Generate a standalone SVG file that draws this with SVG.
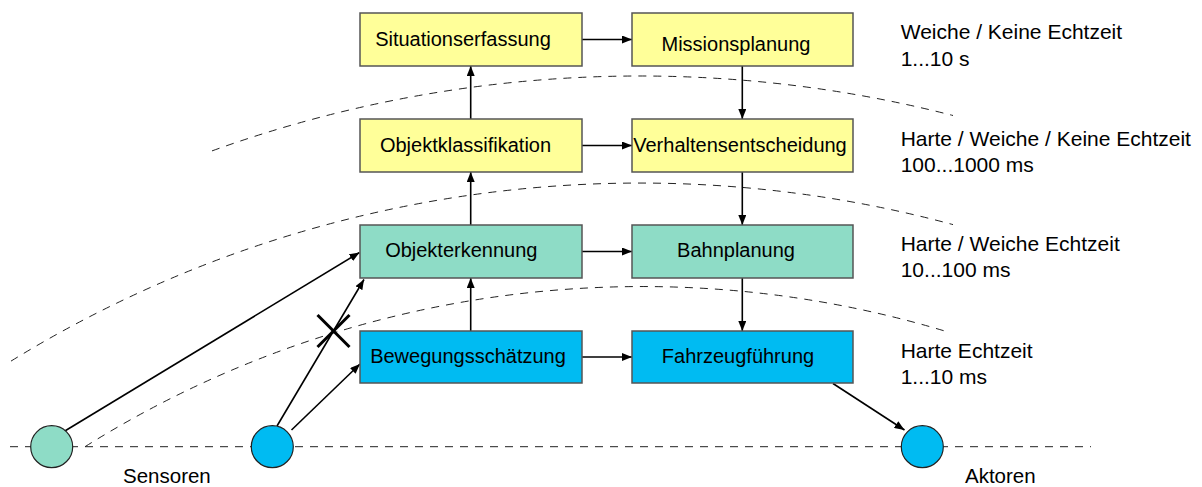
<svg xmlns="http://www.w3.org/2000/svg" width="1202" height="487" viewBox="0 0 1202 487">
  <style>
    .box { stroke: #555; stroke-width: 1.5; }
    .yellow { fill: #FFFF99; }
    .green { fill: #8EDCC6; }
    .blue { fill: #00BBF2; }
    .lbl { font-family: "Liberation Sans", Arial, sans-serif; font-size: 20px; fill: #000; text-anchor: middle; }
    .note { font-family: "Liberation Sans", Arial, sans-serif; font-size: 21px; fill: #000; }
    .side { font-family: "Liberation Sans", Arial, sans-serif; font-size: 20.5px; fill: #000; }
    .dash { fill: none; stroke: #222; stroke-width: 1; stroke-dasharray: 8 7; }
    .edge { fill: none; stroke: #000; stroke-width: 1.6; marker-end: url(#arrow); }
    .dev { stroke: #222; stroke-width: 1.2; }
  </style>
  <defs>
    <marker id="arrow" markerUnits="userSpaceOnUse" markerWidth="10" markerHeight="8" refX="10" refY="4" orient="auto">
      <path d="M0,0 L10,4 L0,8 z" fill="#000"/>
    </marker>
  </defs>
  <rect width="1202" height="487" fill="#fff"/>

  <!-- level boundaries -->
  <g id="boundaries">
    <path class="dash" d="M212,150.9 A1260,1260 0 0 1 953,115.5"/>
    <path class="dash" d="M11,361.1 A1200,1200 0 0 1 953,224.6"/>
    <path class="dash" d="M85,446.7 A1050,1050 0 0 1 948,332"/>
    <line class="dash" x1="10" y1="446.7" x2="1091" y2="446.7"/>
  </g>

  <!-- connectors -->
  <g id="connectors">
    <line class="edge" x1="582" y1="39.5" x2="632" y2="39.5"/>
    <line class="edge" x1="582" y1="145.5" x2="632" y2="145.5"/>
    <line class="edge" x1="582" y1="251.5" x2="632" y2="251.5"/>
    <line class="edge" x1="582" y1="357" x2="632" y2="357"/>
    <line class="edge" x1="470.7" y1="119" x2="470.7" y2="66"/>
    <line class="edge" x1="470.7" y1="225" x2="470.7" y2="172"/>
    <line class="edge" x1="470.7" y1="331" x2="470.7" y2="278"/>
    <line class="edge" x1="742.3" y1="66" x2="742.3" y2="119"/>
    <line class="edge" x1="742.3" y1="172" x2="742.3" y2="225"/>
    <line class="edge" x1="742.3" y1="278" x2="742.3" y2="331"/>
    <line class="edge" x1="64" y1="431.5" x2="359.5" y2="252.5"/>
    <line class="edge" x1="277" y1="426" x2="364" y2="279.5"/>
    <line class="edge" x1="291.5" y1="430" x2="360" y2="364"/>
    <line class="edge" x1="833" y1="383.5" x2="904.5" y2="430"/>
    <!-- blocked path -->
    <g id="cross" stroke="#000" stroke-width="3">
      <line x1="317.5" y1="315" x2="349.5" y2="347"/>
      <line x1="349.5" y1="315" x2="317.5" y2="347"/>
    </g>
  </g>

  <!-- blocks -->
  <g id="situationserfassung">
    <rect class="box yellow" x="360" y="13" width="222" height="53"/>
    <text class="lbl" x="463" y="45.5">Situationserfassung</text>
  </g>
  <g id="missionsplanung">
    <rect class="box yellow" x="632" y="13" width="221" height="53"/>
    <text class="lbl" x="736" y="51">Missionsplanung</text>
  </g>
  <g id="objektklassifikation">
    <rect class="box yellow" x="360" y="119" width="222" height="53"/>
    <text class="lbl" x="465.5" y="151.5">Objektklassifikation</text>
  </g>
  <g id="verhaltensentscheidung">
    <rect class="box yellow" x="632" y="119" width="221" height="53"/>
    <text class="lbl" x="740" y="151.5">Verhaltensentscheidung</text>
  </g>
  <g id="objekterkennung">
    <rect class="box green" x="360" y="225" width="222" height="53"/>
    <text class="lbl" x="461.3" y="257.3">Objekterkennung</text>
  </g>
  <g id="bahnplanung">
    <rect class="box green" x="632" y="225" width="221" height="53"/>
    <text class="lbl" x="736" y="257.3">Bahnplanung</text>
  </g>
  <g id="bewegungsschaetzung">
    <rect class="box blue" x="360" y="331" width="222" height="52"/>
    <text class="lbl" x="468" y="362.7">Bewegungsschätzung</text>
  </g>
  <g id="fahrzeugfuehrung">
    <rect class="box blue" x="632" y="331" width="221" height="52"/>
    <text class="lbl" x="738" y="362.7">Fahrzeugführung</text>
  </g>

  <!-- sensors and actuators -->
  <g id="sensor-green">
    <circle class="dev green" cx="51.7" cy="446.7" r="21"/>
  </g>
  <g id="sensor-blue">
    <circle class="dev blue" cx="272.3" cy="446.7" r="21"/>
  </g>
  <g id="aktor">
    <circle class="dev blue" cx="922.3" cy="446.7" r="21"/>
  </g>
  <text class="side" x="123" y="483.3">Sensoren</text>
  <text class="side" x="965" y="483.3">Aktoren</text>

  <!-- timing per level -->
  <g id="timing">
    <text class="note" x="900.7" y="39.3">Weiche / Keine Echtzeit</text>
    <text class="note" x="900.7" y="65.5">1...10 s</text>
    <text class="note" x="900.7" y="145.7">Harte / Weiche / Keine Echtzeit</text>
    <text class="note" x="900.7" y="171.7">100...1000 ms</text>
    <text class="note" x="900.7" y="250.7">Harte / Weiche Echtzeit</text>
    <text class="note" x="900.7" y="277">10...100 ms</text>
    <text class="note" x="900.7" y="357.7">Harte Echtzeit</text>
    <text class="note" x="900.7" y="384">1...10 ms</text>
  </g>
</svg>
